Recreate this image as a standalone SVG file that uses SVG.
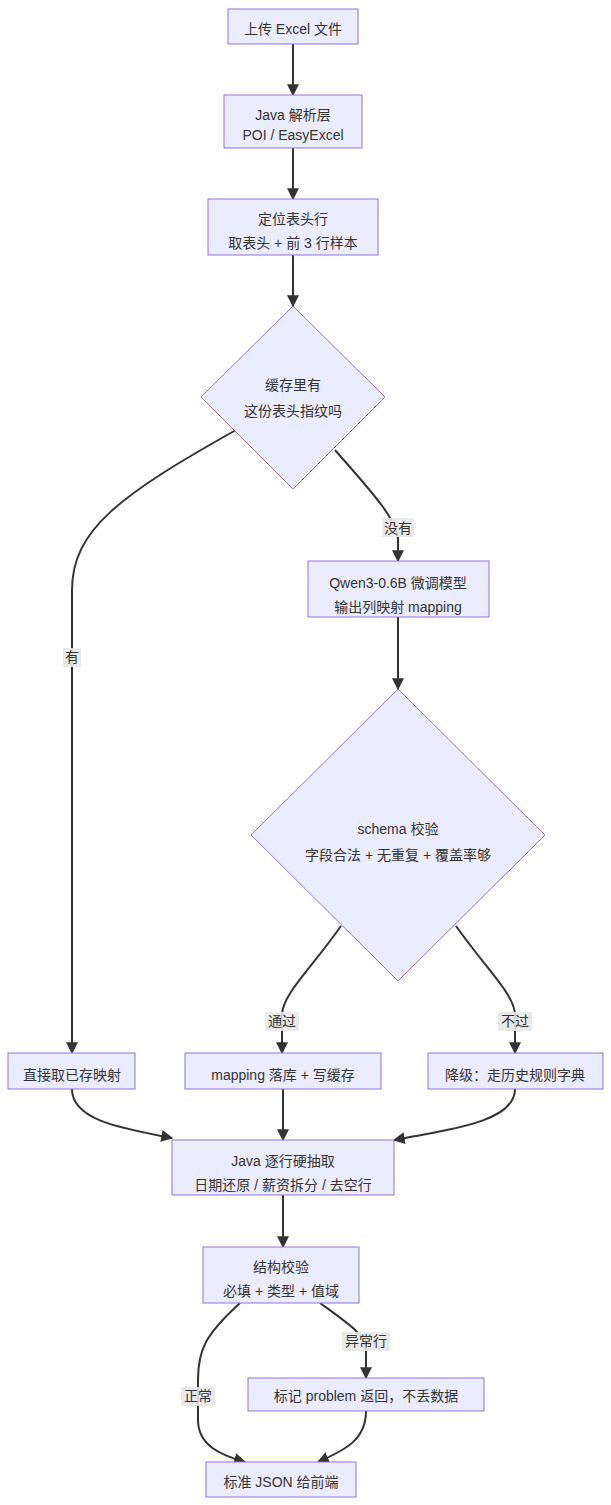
<svg xmlns="http://www.w3.org/2000/svg" width="611" height="1505" viewBox="0 0 611 1505">
<style>
.n{fill:#ECECFF;stroke:#9370DB;stroke-width:1}
.t{font-family:"Liberation Sans","Noto Sans CJK SC",sans-serif;font-size:14px;fill:#333;text-anchor:middle;dominant-baseline:central}
.e{fill:none;stroke:#333;stroke-width:2;marker-end:url(#a)}
.lb{fill:#e8e8e8;opacity:0.9}
</style>
<defs><marker id="a" viewBox="0 0 10 10" refX="9" refY="5" markerWidth="6" markerHeight="6" orient="auto"><path d="M0,0L10,5L0,10z" fill="#333"/></marker></defs>
<rect width="611" height="1505" fill="#fff"/>
<g id="edges">
<path class="e" d="M293,44V95"/>
<path class="e" d="M293,148V199"/>
<path class="e" d="M293,255V306"/>
<path class="e" d="M236,430C120,495 72,530 72,590V1053"/>
<path class="e" d="M335,450C370,490 398,520 398,540V561"/>
<path class="e" d="M398,617V689"/>
<path class="e" d="M341,926C310,970 282,995 282,1015V1053"/>
<path class="e" d="M456,926C487,970 515,995 515,1015V1053"/>
<path class="e" d="M72,1089C72,1120 120,1128 172,1138"/>
<path class="e" d="M283,1089V1140"/>
<path class="e" d="M515,1089C515,1120 460,1128 394,1140"/>
<path class="e" d="M283,1195V1247"/>
<path class="e" d="M240,1303C205,1335 198,1350 198,1380V1420C198,1445 220,1455 245,1462"/>
<path class="e" d="M320,1303C350,1325 366,1335 366,1350V1378"/>
<path class="e" d="M366,1411C366,1440 345,1450 318,1462"/>
<rect class="lb" x="63" y="648" width="18" height="19"/><text class="t" x="72" y="657">有</text>
<rect class="lb" x="382" y="518" width="32" height="19"/><text class="t" x="398" y="528">没有</text>
<rect class="lb" x="265" y="1012" width="34" height="19"/><text class="t" x="282" y="1021">通过</text>
<rect class="lb" x="498" y="1012" width="34" height="19"/><text class="t" x="515" y="1021">不过</text>
<rect class="lb" x="181" y="1387" width="34" height="19"/><text class="t" x="198" y="1396">正常</text>
<rect class="lb" x="342" y="1332" width="48" height="19"/><text class="t" x="366" y="1341">异常行</text>
</g>
<g id="n1"><rect class="n" x="228" y="9" width="130" height="35"/><text class="t" x="293" y="29">上传 Excel 文件</text></g>
<g id="n2"><rect class="n" x="224" y="95" width="138" height="53"/><text class="t" x="293" y="115">Java 解析层</text><text class="t" x="293" y="135">POI / EasyExcel</text></g>
<g id="n3"><rect class="n" x="208" y="199" width="170" height="56"/><text class="t" x="293" y="219">定位表头行</text><text class="t" x="293" y="243">取表头 + 前 3 行样本</text></g>
<g id="d1"><polygon class="n" points="293,306 385,397 293,489 201,397"/><text class="t" x="293" y="385">缓存里有</text><text class="t" x="293" y="411">这份表头指纹吗</text></g>
<g id="n4"><rect class="n" x="308" y="561" width="181" height="56"/><text class="t" x="398" y="583">Qwen3-0.6B 微调模型</text><text class="t" x="398" y="607">输出列映射 mapping</text></g>
<g id="d2"><polygon class="n" points="398,689 545,835 398,981 251,835"/><text class="t" x="398" y="829">schema 校验</text><text class="t" x="398" y="855">字段合法 + 无重复 + 覆盖率够</text></g>
<g id="n5"><rect class="n" x="8" y="1053" width="127" height="36"/><text class="t" x="72" y="1075">直接取已存映射</text></g>
<g id="n6"><rect class="n" x="185" y="1053" width="196" height="36"/><text class="t" x="283" y="1075">mapping 落库 + 写缓存</text></g>
<g id="n7"><rect class="n" x="428" y="1053" width="175" height="36"/><text class="t" x="515" y="1075">降级：走历史规则字典</text></g>
<g id="n8"><rect class="n" x="172" y="1140" width="222" height="55"/><text class="t" x="283" y="1161">Java 逐行硬抽取</text><text class="t" x="283" y="1185">日期还原 / 薪资拆分 / 去空行</text></g>
<g id="n9"><rect class="n" x="203" y="1247" width="156" height="56"/><text class="t" x="281" y="1267">结构校验</text><text class="t" x="281" y="1291">必填 + 类型 + 值域</text></g>
<g id="n10"><rect class="n" x="248" y="1378" width="236" height="33"/><text class="t" x="366" y="1396">标记 problem 返回，不丢数据</text></g>
<g id="n11"><rect class="n" x="206" y="1462" width="150" height="35"/><text class="t" x="281" y="1482">标准 JSON 给前端</text></g>
</svg>
